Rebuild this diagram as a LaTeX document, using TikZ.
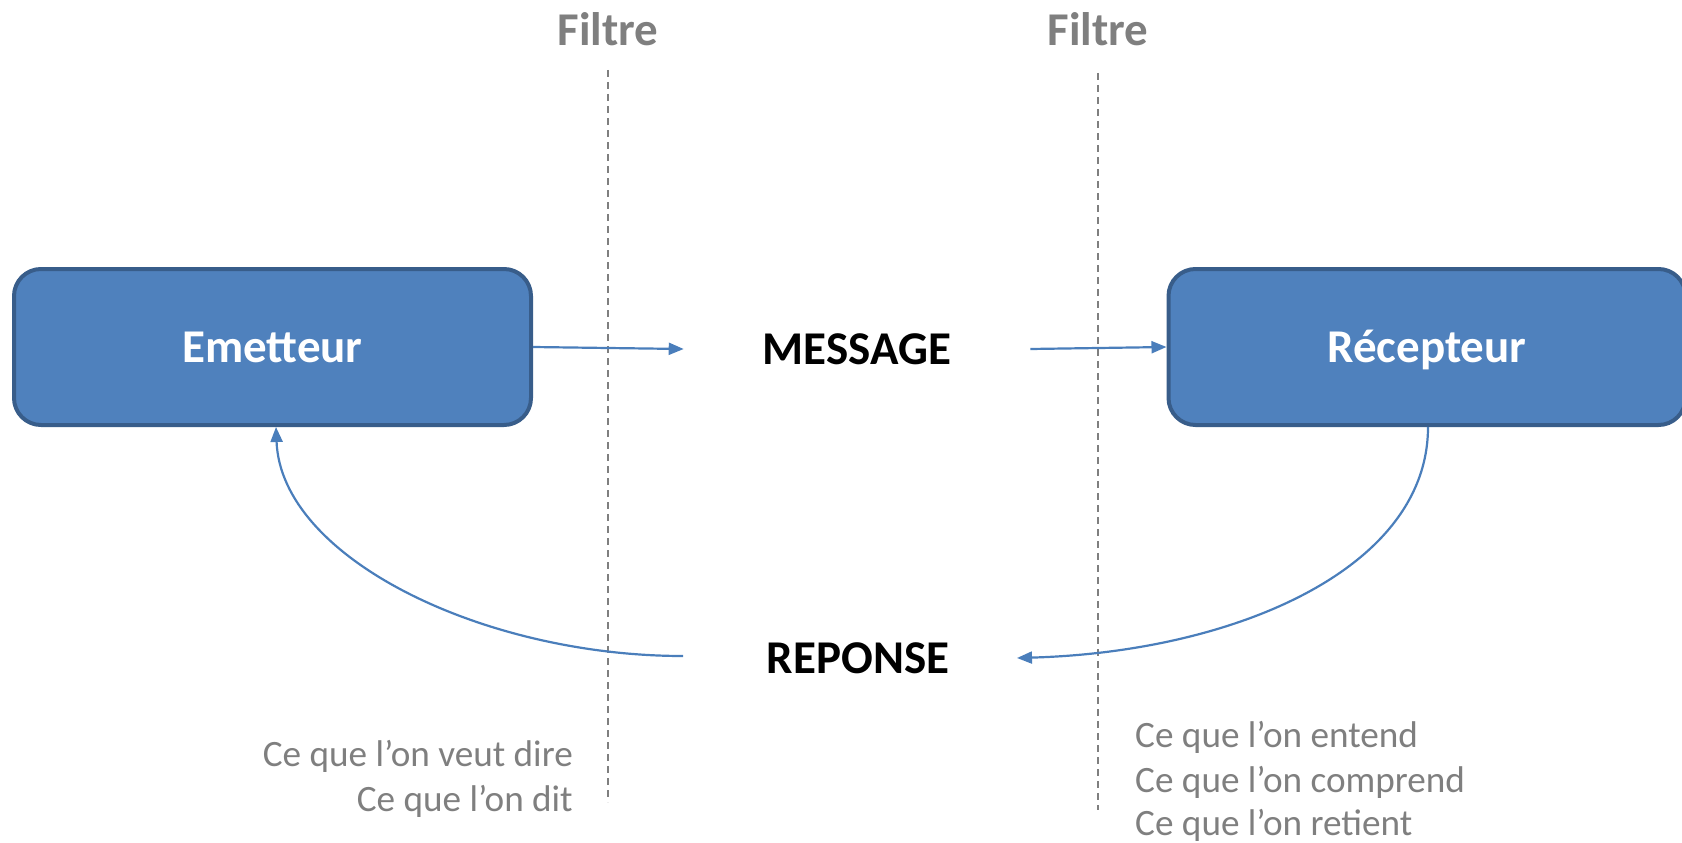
\documentclass[tikz,border=0pt]{standalone}
\usepackage{fontspec}
\setmainfont{Carlito}
\usetikzlibrary{arrows.meta}
\definecolor{boxfill}{HTML}{4F81BD}
\definecolor{boxline}{HTML}{385D8A}
\definecolor{arrowc}{HTML}{4A7EBB}
\definecolor{graytxt}{HTML}{7F7F7F}
\begin{document}
\begin{tikzpicture}[x=1pt,y=-1pt,
  actor/.style={draw=boxline, fill=boxfill, line width=4pt, rounded corners=27pt,
    minimum width=517pt, minimum height=156pt, text=white,
    font=\fontsize{47}{56}\selectfont\bfseries, text height=30pt, text depth=0pt, inner sep=0pt},
  big/.style={font=\fontsize{47}{56}\selectfont\bfseries, inner sep=0pt, text height=30pt, text depth=0pt},
  note/.style={font=\fontsize{37.2}{45}\selectfont, text=graytxt, inner sep=0pt},
  flow/.style={draw=arrowc, line width=2.2pt, -{Triangle[length=15pt,width=12pt]}},
  sep/.style={draw=graytxt, line width=1.6pt, dash pattern=on 7pt off 5pt}]
\useasboundingbox (0,0) rectangle (1682,843);
% filters
\node[big, text=graytxt] (F1) at (608,31) {Filtre};
\node[big, text=graytxt] (F2) at (1098,31) {Filtre};
\coordinate (d1a) at (608,70);
\coordinate (d1b) at (608,802);
\coordinate (d2a) at (1098,73);
\coordinate (d2b) at (1098,810);
\draw[sep] (d1a) -- (d1b);
\draw[sep] (d2a) -- (d2b);
% actors
\node[actor] (E) at (272.5,347) {Emetteur};
\node[actor] (R) at (1427,347) {Récepteur};
% message / reponse
\node[big, inner xsep=79pt] (M) at (857,349) {MESSAGE};
\node[big] (P) at (858,658) {REPONSE};
\coordinate (rl) at (683,656);
\coordinate (rr) at (1017,658);
% connectors
\draw[flow] (E.east) -- (M.west);
\draw[flow] (M.east) -- (R.west);
\draw[flow] ([xshift=1pt]R.south) .. controls (1428,569) and (1234,652) .. (rr);
\draw[flow] (rl) .. controls (483,656) and (281,558) .. ([xshift=3.5pt]E.south);
% notes
\node[note, anchor=base east] (n1) at (573,766) {Ce que l’on veut dire};
\node[note, anchor=base east] (n2) at (573,811) {Ce que l’on dit};
\node[note, anchor=base west] (n3) at (1135,747) {Ce que l’on entend};
\node[note, anchor=base west] (n4) at (1135,792) {Ce que l’on comprend};
\node[note, anchor=base west] (n5) at (1135,835) {Ce que l’on retient};
\end{tikzpicture}
\end{document}
